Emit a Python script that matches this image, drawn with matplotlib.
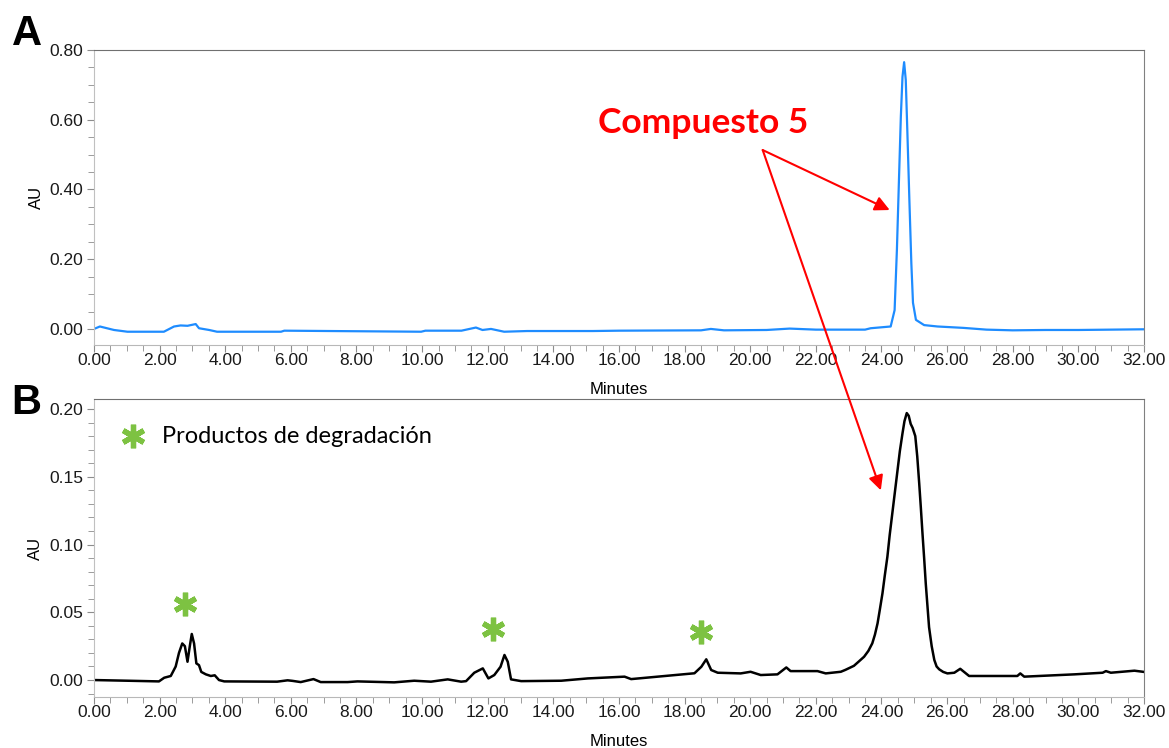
import matplotlib.pyplot as plt
from matplotlib.patches import ConnectionPatch
from matplotlib.ticker import MultipleLocator, FormatStrFormatter

# Chromatogram A: compound 5 (time in minutes, absorbance in AU)
t_a = [0.00, 0.18, 0.61, 1.02, 2.13, 2.44, 2.64, 2.85, 3.00, 3.10, 3.20, 3.51,
       3.75, 5.70, 5.80, 9.97, 10.10, 11.20, 11.64, 11.84, 12.10, 12.50, 13.20,
       15.20, 16.00, 18.50, 18.80, 19.20, 20.50, 21.20, 22.00, 23.50, 23.67,
       24.28, 24.40, 24.47, 24.53, 24.59, 24.64, 24.69, 24.74, 24.79, 24.85,
       24.91, 24.96, 25.05, 25.30, 25.71, 26.11, 26.50, 27.20, 28.00, 29.00,
       30.00, 31.00, 32.00]
au_a = [0.000, 0.007, -0.003, -0.008, -0.008, 0.007, 0.010, 0.009, 0.012, 0.014,
        0.002, -0.003, -0.008, -0.008, -0.005, -0.008, -0.005, -0.005, 0.004,
        -0.003, 0.000, -0.008, -0.006, -0.006, -0.005, -0.004, 0.000, -0.004,
        -0.003, 0.001, -0.002, -0.002, 0.002, 0.007, 0.054, 0.227, 0.419, 0.609,
        0.723, 0.765, 0.714, 0.561, 0.370, 0.188, 0.075, 0.026, 0.011, 0.007,
        0.005, 0.003, -0.002, -0.004, -0.003, -0.003, -0.002, -0.001]

# Chromatogram B: degraded sample
t_b = [0.00, 1.02, 1.98, 2.14, 2.34, 2.49, 2.59, 2.69, 2.77, 2.85, 2.92, 2.98,
       3.05, 3.12, 3.20, 3.27, 3.41, 3.56, 3.68, 3.81, 3.97, 5.58, 5.90, 6.05,
       6.30, 6.69, 6.91, 7.73, 8.03, 9.15, 9.76, 10.27, 10.78, 11.19, 11.34,
       11.59, 11.85, 12.02, 12.20, 12.39, 12.51, 12.61, 12.71, 13.02, 14.24,
       15.05, 16.17, 16.37, 18.30, 18.51, 18.66, 18.81, 19.01, 19.71, 20.01,
       20.32, 20.83, 21.10, 21.23, 22.05, 22.30, 22.76, 22.90, 23.16, 23.30,
       23.47, 23.60, 23.72, 23.80, 23.88, 23.95, 24.03, 24.10, 24.18, 24.25,
       24.33, 24.41, 24.49, 24.56, 24.64, 24.70, 24.77, 24.83, 24.89, 24.95,
       25.03, 25.09, 25.15, 25.20, 25.25, 25.30, 25.35, 25.40, 25.45, 25.53,
       25.61, 25.68, 25.76, 25.88, 26.01, 26.22, 26.40, 26.67, 28.14, 28.23,
       28.35, 29.88, 30.74, 30.84, 30.99, 31.71, 32.00]
au_b = [0.0000, -0.0005, -0.0010, 0.0017, 0.0030, 0.0100, 0.0200, 0.0270,
        0.0250, 0.0135, 0.0250, 0.0340, 0.0270, 0.0123, 0.0110, 0.0060, 0.0042,
        0.0030, 0.0035, 0.0000, -0.0010, -0.0012, -0.0002, -0.0006, -0.0015,
        0.0007, -0.0015, -0.0015, -0.0010, -0.0017, -0.0005, -0.0012, 0.0005,
        -0.0012, -0.0008, 0.0054, 0.0086, 0.0012, 0.0037, 0.0098, 0.0185,
        0.0135, 0.0005, -0.0008, -0.0005, 0.0012, 0.0025, 0.0007, 0.0050,
        0.0098, 0.0153, 0.0074, 0.0054, 0.0049, 0.0061, 0.0037, 0.0042, 0.0093,
        0.0066, 0.0066, 0.0049, 0.0061, 0.0075, 0.0105, 0.0135, 0.0172, 0.0215,
        0.0271, 0.0335, 0.0418, 0.0520, 0.0640, 0.0770, 0.0910, 0.1070, 0.1230,
        0.1390, 0.1550, 0.1690, 0.1820, 0.1910, 0.1970, 0.1950, 0.1890, 0.1860,
        0.1800, 0.1650, 0.1450, 0.1270, 0.1080, 0.0900, 0.0710, 0.0550, 0.0390,
        0.0250, 0.0148, 0.0100, 0.0079, 0.0060, 0.0049, 0.0054, 0.0083, 0.0030,
        0.0030, 0.0049, 0.0025, 0.0042, 0.0054, 0.0066, 0.0054, 0.0069, 0.0060]

# degradation products marked with asterisks
deg_t = [2.78, 12.17, 18.49]
deg_au = [0.056, 0.0376, 0.0354]

GREEN = '#7DC242'
RED = '#FF0000'

plt.rcParams['font.family'] = ['Liberation Sans', 'DejaVu Sans']

fig = plt.figure(figsize=(11.69, 7.48), dpi=100)
ax1 = fig.add_axes([0.0804, 0.5388, 0.8982, 0.3944])
ax2 = fig.add_axes([0.0804, 0.0682, 0.8982, 0.3984])

ax1.plot(t_a, au_a, color='#1E8CFF', lw=1.6)
ax2.plot(t_b, au_b, color='black', lw=1.8)

ax1.set_ylim(-0.046, 0.80)
ax2.set_ylim(-0.0125, 0.2074)
ax1.yaxis.set_major_locator(MultipleLocator(0.2))
ax1.yaxis.set_minor_locator(MultipleLocator(0.05))
ax2.yaxis.set_major_locator(MultipleLocator(0.05))
ax2.yaxis.set_minor_locator(MultipleLocator(0.01))

for ax in (ax1, ax2):
    ax.set_xlim(0, 32)
    ax.xaxis.set_major_locator(MultipleLocator(2))
    ax.xaxis.set_minor_locator(MultipleLocator(0.5))
    ax.xaxis.set_major_formatter(FormatStrFormatter('%.2f'))
    ax.yaxis.set_major_formatter(FormatStrFormatter('%.2f'))
    ax.tick_params(which='both', direction='out', color='#8C8C8C',
                   labelsize=12.5, labelcolor='#1A1A1A')
    ax.tick_params(which='major', length=5, pad=3)
    ax.tick_params(axis='x', which='major', pad=1)
    ax.tick_params(which='minor', length=4)
    ax.spines['top'].set_color('#707070')
    ax.spines['right'].set_color('#808080')
    ax.spines['left'].set_color('#C0C0C0')
    ax.spines['bottom'].set_color('#B8B8B8')
    ax.set_xlabel('Minutes', fontsize=12, labelpad=10)
    ax.set_ylabel('AU', fontsize=12, labelpad=4)

fig.text(0.010, 0.940, 'A', fontsize=30, fontweight='bold')
fig.text(0.010, 0.446, 'B', fontsize=30, fontweight='bold')

# asterisks over the degradation peaks and the legend entry
ast = dict(marker=(6, 2, 0), ms=17, mew=3.8, color=GREEN, ls='none')
ax2.plot(deg_t, deg_au, **ast)
ax2.plot([1.19], [0.180], **ast)
ax2.text(2.08, 0.180, 'Productos de degradación', fontsize=17,
         family=['Lato', 'DejaVu Sans'], va='center', ha='left')

ax1.text(18.58, 0.59, 'Compuesto 5', fontsize=25.5, fontweight='bold',
         family=['Lato', 'DejaVu Sans'], color=RED, ha='center', va='center')

# arrows from the label to the main peak in both traces
start = (20.38, 0.513)
arrow_kw = dict(arrowstyle='-|>', color=RED, lw=1.5, mutation_scale=22)
fig.add_artist(ConnectionPatch(start, (24.25, 0.341), 'data', 'data',
                               axesA=ax1, axesB=ax1, **arrow_kw))
fig.add_artist(ConnectionPatch(start, (23.98, 0.140), 'data', 'data',
                               axesA=ax1, axesB=ax2, **arrow_kw))

fig.savefig('out.png', dpi=100)
